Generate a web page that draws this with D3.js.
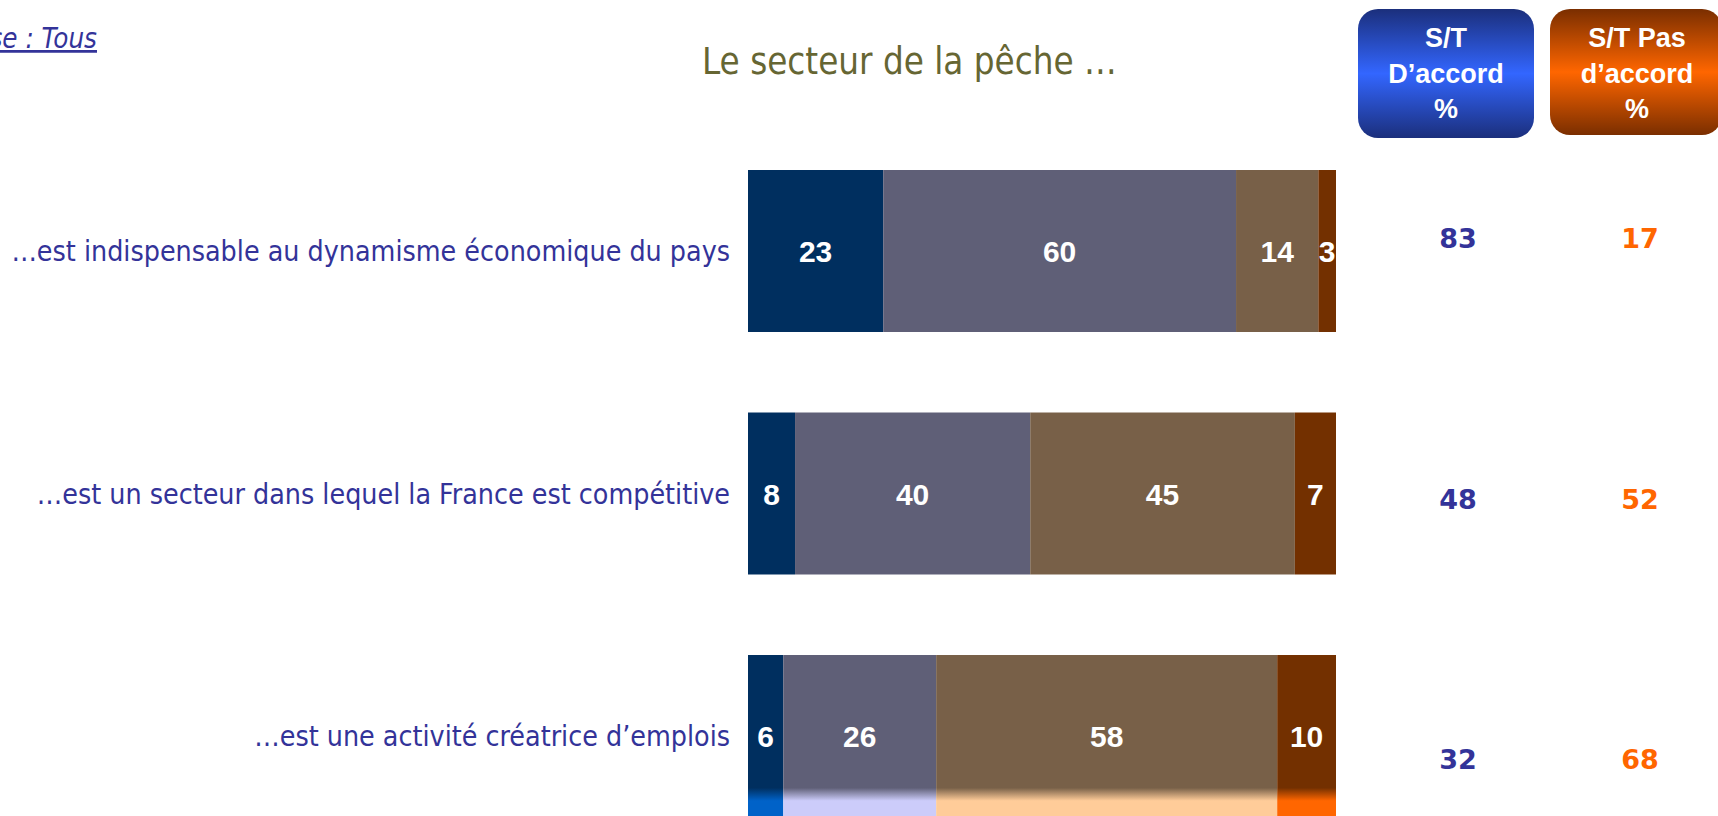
<!DOCTYPE html>
<html><head><meta charset="utf-8">
<script src="https://cdn.jsdelivr.net/npm/d3@7"></script>
<style>html,body{margin:0;padding:0;background:#fff;overflow:hidden}</style>
</head><body>
<svg id="c" width="1718" height="816"></svg>
<script>
const categories = [
  "…est indispensable au dynamisme économique du pays",
  "…est un secteur dans lequel la France est compétitive",
  "…est une activité créatrice d’emplois"
];
const seriesNames = ["Tout à fait d'accord", "Plutôt d'accord", "Plutôt pas d'accord", "Pas du tout d'accord"];
const toutAFait = [23, 8, 6];
const plutot = [60, 40, 26];
const plutotPas = [14, 45, 58];
const pasDuTout = [3, 7, 10];
const stAccord = [83, 48, 32];
const stPasAccord = [17, 52, 68];
const headerAccord = ["S/T", "D’accord", "%"];
const headerPas = ["S/T Pas", "d’accord", "%"];
const title = "Le secteur de la pêche …";
const baseText = "Base : Tous";

const colors = ["#002f5f", "#5f5f77", "#786048", "#733000"];
const lightColors = ["#0062c8", "#ccccfa", "#ffcc99", "#ff6600"];

const svg = d3.select("#c");
const defs = svg.append("defs");

const x = d3.scaleLinear().domain([0, 100]).range([748, 1336]);
const y = d3.scaleBand().domain(categories).range([170, 817]).paddingInner(0.332).paddingOuter(0);
const yr = d3.scalePoint().domain(categories).range([238, 759]);

const rows = categories.map((c, i) => ({cat: c, vals: [toutAFait[i], plutot[i], plutotPas[i], pasDuTout[i]]}));
const table = rows.map(r => { const o = {cat: r.cat}; seriesNames.forEach((s, k) => o[s] = r.vals[k]); return o; });
const stack = d3.stack().keys(seriesNames)(table);

colors.forEach((c, k) => {
  const g = defs.append("linearGradient").attr("id", "lg" + k).attr("x1", 0).attr("y1", 0).attr("x2", 0).attr("y2", 1);
  g.append("stop").attr("offset", 0).attr("stop-color", c);
  g.append("stop").attr("offset", 0.82).attr("stop-color", c);
  g.append("stop").attr("offset", 0.90).attr("stop-color", lightColors[k]);
  g.append("stop").attr("offset", 1).attr("stop-color", lightColors[k]);
});

const gBars = svg.append("g");
stack.forEach((layer, k) => {
  gBars.selectAll(null).data(layer).enter().append("rect")
    .attr("x", d => x(d[0]))
    .attr("y", d => y(d.data.cat))
    .attr("width", d => x(d[1]) - x(d[0]))
    .attr("height", y.bandwidth())
    .attr("fill", (d, i) => i === categories.length - 1 ? "url(#lg" + k + ")" : colors[k]);
  gBars.selectAll(null).data(layer).enter().append("text")
    .attr("x", d => (x(d[0]) + x(d[1])) / 2)
    .attr("y", d => y(d.data.cat) + y.bandwidth() / 2 + 11)
    .attr("text-anchor", "middle")
    .attr("font-family", "Liberation Sans, Arial, sans-serif")
    .attr("font-weight", "bold")
    .attr("font-size", 30)
    .attr("fill", "#fff")
    .text(d => d[1] - d[0]);
});

const labFont = "DejaVu Sans Condensed, DejaVu Sans, sans-serif";
const probe = svg.append("text").attr("font-family", labFont).attr("font-stretch", "condensed").attr("font-size", 28).text(categories[0]);
const w0 = probe.node().getComputedTextLength();
probe.remove();
const labSize = 28 * 719 / w0;
svg.append("g").selectAll("text").data(categories).enter().append("text")
  .attr("x", 730)
  .attr("y", d => y(d) + y.bandwidth() / 2 + labSize * 0.36)
  .attr("text-anchor", "end")
  .attr("font-family", labFont)
  .attr("font-stretch", "condensed")
  .attr("font-size", labSize)
  .attr("fill", "#333399")
  .text(d => d);

const tprobe = svg.append("text").attr("font-family", labFont).attr("font-stretch", "condensed").attr("font-size", 34).text(title);
const tw = tprobe.node().getComputedTextLength();
tprobe.remove();
svg.append("text").attr("x", 702).attr("y", 74)
  .attr("font-family", labFont).attr("font-stretch", "condensed").attr("font-size", 34 * 415 / tw)
  .attr("fill", "#666633").text(title);

svg.append("text").attr("x", 97).attr("y", 48).attr("text-anchor", "end")
  .attr("font-family", labFont).attr("font-stretch", "condensed").attr("font-style", "italic").attr("font-size", labSize * 0.97)
  .attr("text-decoration", "underline").attr("fill", "#333399").text(baseText);

function grad(id, dark, bright) {
  const g = defs.append("linearGradient").attr("id", id).attr("x1", 0).attr("y1", 0).attr("x2", 0).attr("y2", 1);
  g.append("stop").attr("offset", 0).attr("stop-color", dark);
  g.append("stop").attr("offset", 0.5).attr("stop-color", bright);
  g.append("stop").attr("offset", 1).attr("stop-color", dark);
}
grad("gb", "#1b2f7c", "#3366ff");
grad("go", "#7a2e00", "#ff6600");

const boxes = [
  {x0: 1358, x1: 1534, y0: 9, y1: 138, fill: "url(#gb)", lines: headerAccord, cx: 1446},
  {x0: 1550, x1: 1722, y0: 9, y1: 135, fill: "url(#go)", lines: headerPas, cx: 1637}
];
boxes.forEach(b => {
  svg.append("rect").attr("x", b.x0).attr("y", b.y0).attr("width", b.x1 - b.x0).attr("height", b.y1 - b.y0)
    .attr("rx", 20).attr("fill", b.fill);
  svg.append("g").selectAll("text").data(b.lines).enter().append("text")
    .attr("x", b.cx).attr("y", (d, i) => 47 + i * 35.5)
    .attr("text-anchor", "middle")
    .attr("font-family", "Liberation Sans, Arial, sans-serif")
    .attr("font-weight", "bold").attr("font-size", 27).attr("fill", "#fff")
    .text(d => d);
});

svg.append("g").selectAll("text").data(categories).enter().append("text")
  .attr("x", 1458).attr("y", d => yr(d) + 10)
  .attr("text-anchor", "middle").attr("font-family", "DejaVu Sans, sans-serif").attr("font-weight", "bold")
  .attr("font-size", 27).attr("fill", "#333399")
  .text((d, i) => stAccord[i]);
svg.append("g").selectAll("text").data(categories).enter().append("text")
  .attr("x", 1640).attr("y", d => yr(d) + 10)
  .attr("text-anchor", "middle").attr("font-family", "DejaVu Sans, sans-serif").attr("font-weight", "bold")
  .attr("font-size", 27).attr("fill", "#ff6600")
  .text((d, i) => stPasAccord[i]);
</script>
</body></html>
